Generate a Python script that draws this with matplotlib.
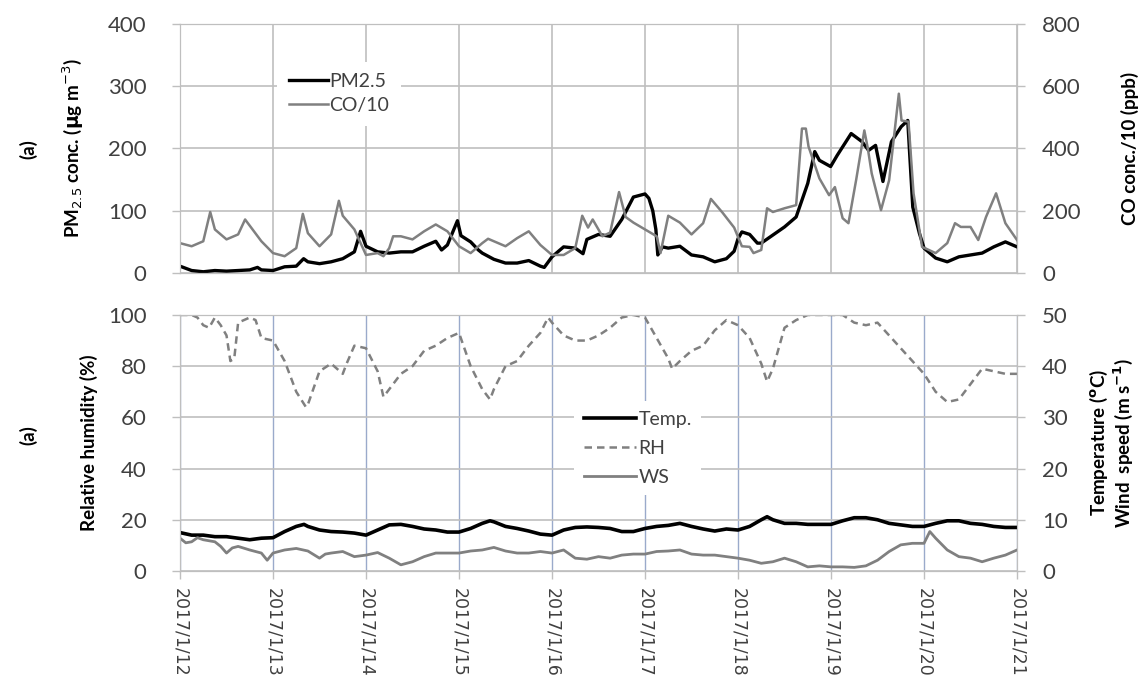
import numpy as np
import matplotlib
matplotlib.use('Agg')
import matplotlib.pyplot as plt

plt.rcParams['font.family'] = ['Lato', 'DejaVu Sans']

# (hours since 2017/1/12 00:00, value)
PM25 = [(0, 11), (3, 4), (6, 2), (9, 4), (12, 3), (15, 4), (18, 5), (20, 9), (21, 5), (24, 4),
        (27, 10), (30, 11), (31.9, 23), (33, 18), (36, 15), (39, 18), (42, 23), (45, 34),
        (46.6, 67), (48, 43), (51, 34), (54, 32), (57, 34), (60, 34), (63, 43), (66, 51),
        (67.5, 37), (69, 45), (71.6, 84), (72.5, 60), (75, 50), (77, 37), (78, 32), (81, 22),
        (84, 16), (87, 16), (90, 20), (93, 11), (94, 9), (96, 26), (99, 42), (102, 40),
        (104, 31), (105, 54), (108, 62), (111, 59), (114, 86), (117, 122), (120, 127),
        (121, 120), (122, 100), (122.8, 70), (123.3, 29), (124.5, 42), (126, 40), (129, 43),
        (132, 29), (135, 26), (138, 18), (141, 23), (143, 35), (144, 55), (145, 66), (147, 62),
        (149, 48), (150, 48), (153, 61), (156, 74), (159, 90), (162, 144), (163.8, 195),
        (165, 181), (167.9, 171), (169.6, 189), (173.2, 224), (176, 211), (177.7, 197),
        (179.5, 205), (181.4, 147), (183.6, 211), (186.1, 235), (187.8, 245), (189.1, 106),
        (190.8, 64), (192, 40), (195, 24), (198, 18), (201, 26), (204, 29), (207, 32),
        (210, 42), (213, 50), (216, 42)]

# CO/10 in ppb (right axis)
CO10 = [(0, 96), (3, 86), (6, 102), (7.8, 196), (9, 140), (12, 108), (15, 124), (16.8, 172),
        (21, 102), (24, 64), (27, 54), (30, 80), (31.7, 190), (33, 128), (36, 86), (39, 124),
        (41, 232), (42, 184), (45, 140), (48, 58), (51, 64), (52.5, 54), (54, 80), (55, 118),
        (57, 118), (60, 108), (63, 134), (66, 156), (69, 134), (72, 86), (75, 64), (78, 96),
        (79.5, 110), (81, 102), (84, 86), (87, 112), (90, 134), (93, 90), (96, 58), (99, 58),
        (102, 80), (103.8, 184), (105.3, 146), (106.5, 172), (109, 118), (111, 130),
        (113.3, 260), (115, 180), (117, 162), (120, 140), (123, 118), (124, 64), (126, 184),
        (129, 162), (132, 124), (135, 160), (137, 238), (140, 194), (143, 146), (145, 86),
        (147, 84), (148, 64), (150, 74), (151.5, 208), (153, 196), (156, 208), (159, 218),
        (160.5, 464), (161.5, 464), (162.2, 406), (165, 304), (167.5, 250), (169, 276),
        (171, 176), (172.5, 160), (174.5, 300), (176.6, 458), (177.5, 400), (178.5, 320),
        (180.9, 202), (183, 298), (185.5, 576), (186.2, 490), (188, 486), (189.3, 256),
        (191.5, 84), (195, 64), (198, 96), (200, 160), (201.5, 148), (204, 148), (206, 106),
        (208, 180), (210.6, 256), (213, 160), (216, 106)]

RH = [(0, 100), (3, 100), (4.5, 99), (6, 96), (7.5, 95), (9, 99), (10.5, 96), (12, 92), (13, 82),
      (14, 83), (15, 97), (18, 99), (19.5, 98), (21, 91), (24, 90), (27, 82), (30, 70),
      (32.5, 64), (33, 65), (36, 78), (39, 81), (42, 77), (43, 81), (45, 88), (48, 87), (51, 78),
      (52.5, 68), (54, 71), (57, 77), (60, 80), (63, 86), (66, 88), (69, 91), (72, 93), (75, 80),
      (78, 71), (80, 67), (81, 71), (84, 80), (87, 82), (90, 88), (93, 93), (95, 99), (96, 97),
      (99, 92), (102, 90), (105, 90), (108, 92), (111, 95), (114, 99), (117, 100), (120, 99),
      (123, 91), (126, 83), (127, 79), (129, 82), (132, 86), (135, 88), (138, 94), (141, 98),
      (144, 96), (147, 91), (150, 81), (151.5, 74), (153, 79), (156, 95), (159, 98), (162, 100),
      (165, 100), (168, 100), (171, 100), (174, 97), (177, 96), (180, 97), (183, 92), (186, 87),
      (189, 82), (192, 77), (195, 70), (198, 66), (201, 67), (204, 73), (207, 79), (210, 78),
      (213, 77), (216, 77)]

TEMP = [(0, 7.5), (3, 7.0), (6, 7.0), (9, 6.7), (12, 6.7), (15, 6.4), (18, 6.1), (21, 6.4),
        (24, 6.5), (27, 7.7), (30, 8.7), (32, 9.1), (33, 8.7), (36, 8.0), (39, 7.7), (42, 7.6),
        (45, 7.4), (48, 7.0), (51, 8.0), (54, 9.0), (57, 9.1), (60, 8.7), (63, 8.2), (66, 8.0),
        (69, 7.6), (72, 7.6), (75, 8.3), (78, 9.3), (80, 9.8), (81, 9.6), (84, 8.7), (87, 8.3),
        (90, 7.8), (93, 7.2), (96, 7.0), (99, 8.0), (102, 8.5), (105, 8.6), (108, 8.5),
        (111, 8.3), (114, 7.7), (117, 7.7), (120, 8.3), (123, 8.7), (126, 8.9), (129, 9.3),
        (132, 8.7), (135, 8.2), (138, 7.8), (141, 8.2), (144, 8.0), (147, 8.7), (150, 10.0),
        (151.5, 10.6), (153, 10.0), (156, 9.3), (159, 9.3), (162, 9.1), (165, 9.1), (168, 9.1),
        (171, 9.8), (174, 10.4), (177, 10.4), (180, 10.0), (183, 9.3), (186, 9.0), (189, 8.7),
        (192, 8.7), (195, 9.3), (198, 9.8), (201, 9.8), (204, 9.3), (207, 9.1), (210, 8.7),
        (213, 8.5), (216, 8.5)]

WS = [(0, 6.4), (1.5, 5.5), (3, 5.7), (4.5, 6.5), (6, 6.1), (9, 5.7), (10.5, 4.8), (12, 3.5),
      (13.5, 4.5), (15, 4.8), (18, 4.1), (21, 3.5), (22.5, 2.1), (24, 3.5), (27, 4.1), (30, 4.4),
      (33, 3.9), (36, 2.5), (37.5, 3.3), (39, 3.5), (42, 3.8), (45, 2.8), (48, 3.1), (51, 3.6),
      (54, 2.5), (57, 1.2), (60, 1.8), (63, 2.8), (66, 3.5), (69, 3.5), (72, 3.5), (75, 3.9),
      (78, 4.1), (81, 4.6), (84, 3.9), (87, 3.5), (90, 3.5), (93, 3.8), (96, 3.5), (99, 4.1),
      (102, 2.5), (105, 2.3), (108, 2.8), (111, 2.5), (114, 3.1), (117, 3.3), (120, 3.3),
      (123, 3.8), (126, 3.9), (129, 4.1), (132, 3.3), (135, 3.1), (138, 3.1), (141, 2.8),
      (144, 2.5), (147, 2.1), (150, 1.5), (153, 1.8), (156, 2.5), (159, 1.8), (162, 0.8),
      (165, 1.0), (168, 0.8), (171, 0.8), (174, 0.7), (177, 1.0), (180, 2.1), (183, 3.8),
      (186, 5.1), (189, 5.4), (192, 5.4), (193.5, 7.7), (195, 6.4), (198, 4.1), (201, 2.8),
      (204, 2.5), (207, 1.8), (210, 2.5), (213, 3.1), (216, 4.1)]

DAY_LABELS = ['2017/1/%d' % d for d in range(12, 22)]

GRID = '#bfbfbf'
TXT = '#404040'


def xy(pairs):
    a = np.array(pairs, dtype=float)
    return a[:, 0] / 24.0, a[:, 1]


def style(ax):
    ax.tick_params(axis='both', colors=GRID, labelcolor=TXT, labelsize=16, length=6, width=1)
    for s in ax.spines.values():
        s.set_color(GRID)


fig = plt.figure(figsize=(11.48, 6.91), dpi=100)
ax1 = fig.add_axes([0.1568, 0.6049, 0.7291, 0.3604])
ax3 = fig.add_axes([0.1568, 0.1737, 0.7291, 0.3705])

# ---- top panel
ax1.set_xlim(0, 9)
ax1.set_ylim(0, 400)
ax1.set_yticks(range(0, 401, 100))
ax1.set_xticks(range(10))
ax1.grid(True, color=GRID, lw=1.2)
ax1.set_axisbelow(True)
style(ax1)
ax1.tick_params(axis='x', length=0, labelbottom=False)
ax1.tick_params(axis='y', pad=18)
l_pm, = ax1.plot(*xy(PM25), color='black', lw=2.4, label='PM2.5')
ax1.set_ylabel(r'PM$_{2.5}$ conc. ($\mathbf{\mu}$g m$^{-3}$)', fontsize=13.5, fontweight='bold')
ax1.yaxis.set_label_coords(-0.112, 0.5)

ax2 = ax1.twinx()
ax2.set_ylim(0, 800)
ax2.set_yticks(range(0, 801, 200))
style(ax2)
ax2.tick_params(axis='y', pad=12)
l_co, = ax2.plot(*xy(CO10), color='#808080', lw=1.8, label='CO/10')
ax2.set_ylabel('CO conc./10 (ppb)', fontsize=13.5, fontweight='bold')
ax2.yaxis.set_label_coords(1.124, 0.5)
leg = ax2.legend(handles=[l_pm, l_co], loc='center', bbox_to_anchor=(0.19, 0.72),
                 fontsize=14, frameon=True, facecolor='white', edgecolor='none', framealpha=1,
                 handlelength=2.0, handletextpad=0.1, labelspacing=0.35, borderpad=0.6)
for t in leg.get_texts():
    t.set_color(TXT)

# ---- bottom panel
ax3.set_xlim(0, 9)
ax3.set_ylim(0, 100)
ax3.set_yticks(range(0, 101, 20))
ax3.set_xticks(range(10))
ax3.set_xticklabels(DAY_LABELS, rotation=270, family='DejaVu Sans', fontsize=12.5)
ax3.yaxis.grid(True, color=GRID, lw=1.2)
ax3.xaxis.grid(True, color='#9aaacb', lw=1.0)
ax3.set_axisbelow(True)
style(ax3)
ax3.tick_params(axis='x', labelsize=12.5, pad=6)
ax3.tick_params(axis='y', pad=18)
l_rh, = ax3.plot(*xy(RH), color='#808080', lw=1.8, ls=(0, (3, 2)), label='RH')
ax3.set_ylabel('Relative humidity (%)', fontsize=13.5, fontweight='bold')
ax3.yaxis.set_label_coords(-0.098, 0.5)

ax4 = ax3.twinx()
ax4.set_ylim(0, 50)
ax4.set_yticks(range(0, 51, 10))
style(ax4)
ax4.tick_params(axis='y', pad=12)
l_t, = ax4.plot(*xy(TEMP), color='black', lw=2.6, label='Temp.')
l_ws, = ax4.plot(*xy(WS), color='#808080', lw=2.0, label='WS')
ax4.set_ylabel('Temperature ($\\mathbf{^o}$C)\nWind  speed (m s$^{\\mathbf{-1}}$)',
               fontsize=13.5, fontweight='bold', linespacing=1.05)
ax4.yaxis.set_label_coords(1.085, 0.5)
leg2 = ax4.legend(handles=[l_t, l_rh, l_ws], loc='center', bbox_to_anchor=(0.547, 0.48),
                  fontsize=14, frameon=True, facecolor='white', edgecolor='none', framealpha=1,
                  handlelength=2.7, handletextpad=0.1, labelspacing=0.62, borderpad=0.5)
for t in leg2.get_texts():
    t.set_color(TXT)

fig.text(0.025, 0.785, '(a)', rotation=90, fontsize=13.5, fontweight='bold',
         ha='center', va='center')
fig.text(0.025, 0.37, '(a)', rotation=90, fontsize=13.5, fontweight='bold',
         ha='center', va='center')

fig.savefig('out.png', dpi=100)
